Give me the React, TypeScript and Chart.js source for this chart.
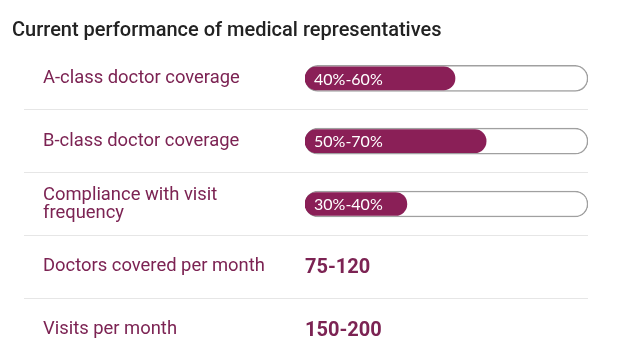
import React, { useEffect, useRef } from "react";
import { Chart, registerables } from "chart.js";

Chart.register(...registerables);

const titleText = "Current performance of medical representatives";
const categories: (string | string[])[] = [
  "A-class doctor coverage",
  "B-class doctor coverage",
  ["Compliance with visit", "frequency"],
  "Doctors covered per month",
  "Visits per month",
];
const fillValues: (number | null)[] = [53, 64, 36, null, null];
const trackValues: (number | null)[] = [100, 100, 100, null, null];
const barLabels: (string | null)[] = ["40%-60%", "50%-70%", "30%-40%", null, null];
const textValues: (string | null)[] = [null, null, null, "75-120", "150-200"];

const MAGENTA = "#7c2353";
const FILL = "#8a1f57";

const labelPlugin = {
  id: "rowLabels",
  afterDatasetsDraw(chart: any) {
    const ctx = chart.ctx;
    const meta = chart.getDatasetMeta(0);
    const yScale = chart.scales.y;
    const xScale = chart.scales.x;
    ctx.save();
    ctx.textBaseline = "middle";
    ctx.textAlign = "left";
    ctx.fillStyle = "#ffffff";
    ctx.font = "400 16px Lato";
    meta.data.forEach((el: any, i: number) => {
      const t = barLabels[i];
      if (!t) return;
      ctx.fillText(t, el.base + 9, el.y + 1);
    });
    ctx.fillStyle = MAGENTA;
    ctx.font = "700 20px Roboto";
    textValues.forEach((t, i) => {
      if (!t) return;
      ctx.fillText(t, xScale.getPixelForValue(0), yScale.getPixelForValue(i) + 1);
    });
    ctx.restore();
  },
};

export default function App() {
  const ref = useRef<HTMLCanvasElement>(null);
  useEffect(() => {
    document.body.style.margin = "0";
    const gridColor = (c: any) =>
      c.index === undefined || c.index === 0 ? "rgba(0,0,0,0)" : "#e6e6e6";
    const chart = new Chart(ref.current!, {
      type: "bar",
      data: {
        labels: categories as any,
        datasets: [
          {
            data: fillValues,
            xAxisID: "x",
            yAxisID: "y",
            backgroundColor: FILL,
            borderWidth: 0,
            borderRadius: 12,
            borderSkipped: false,
            barThickness: 23,
            grouped: false,
          } as any,
          {
            data: trackValues,
            xAxisID: "x",
            yAxisID: "y",
            backgroundColor: "#ffffff",
            borderColor: "#a0a0a0",
            borderWidth: 1.5,
            borderRadius: 13,
            borderSkipped: false,
            barThickness: 26,
            grouped: false,
          } as any,
        ],
      },
      options: {
        indexAxis: "y",
        animation: false,
        responsive: true,
        maintainAspectRatio: false,
        layout: { padding: { left: 12, right: 34, top: 0, bottom: 1 } },
        plugins: {
          legend: { display: false },
          tooltip: { enabled: false },
          title: {
            display: true,
            text: titleText,
            align: "start",
            color: "#222222",
            font: { family: "Roboto", size: 20, weight: "500", lineHeight: 1.2 },
            padding: { top: 19, bottom: 4 },
          },
        },
        scales: {
          y: {
            position: "left",
            weight: 0,
            border: { display: false },
            grid: {
              offset: true,
              drawTicks: true,
              tickLength: 281,
              lineWidth: 1,
              color: gridColor,
              tickColor: gridColor,
            },
            ticks: {
              crossAlign: "far",
              autoSkip: false,
              color: MAGENTA,
              font: { family: "Roboto", size: 18.4, lineHeight: 0.98 },
            },
            afterFit: (s: any) => {
              s.width = 262;
              s.paddingTop = 0;
              s.paddingBottom = 0;
            },
          },
          x: { display: false, min: 0, max: 100 },
          spacer: {
            type: "linear",
            position: "left",
            axis: "y",
            display: true,
            weight: 10,
            ticks: { display: false },
            grid: { display: false, drawTicks: false },
            border: { display: false },
            afterFit: (s: any) => {
              s.width = 31;
              s.paddingTop = 0;
              s.paddingBottom = 0;
            },
          } as any,
        },
      },
      plugins: [labelPlugin],
    });
    return () => chart.destroy();
  }, []);
  return (
    <div style={{ position: "relative", width: 622, height: 362 }}>
      <canvas ref={ref} style={{ display: "block" }} />
    </div>
  );
}
